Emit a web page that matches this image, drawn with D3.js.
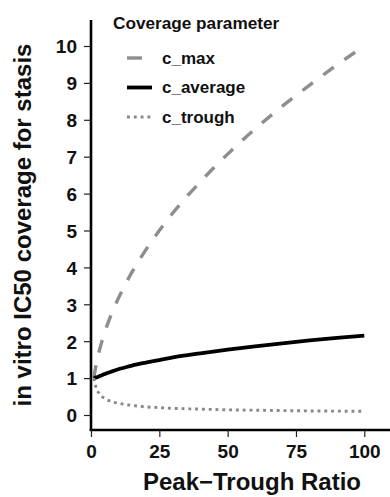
<!DOCTYPE html>
<html>
<head>
<meta charset="utf-8">
<script src="https://cdn.jsdelivr.net/npm/d3@7"></script>
<style>
  html, body { margin: 0; padding: 0; background: #fff; }
  svg { display: block; }
  text { font-family: "Liberation Sans", Arial, sans-serif; font-weight: bold; fill: #111; }
</style>
</head>
<body>
<svg id="chart" width="390" height="497"></svg>
<script>
// Peak-trough ratios and the coverage values read at each one
const ratio     = [1, 2, 3, 4, 5, 6, 8, 10, 12, 15, 20, 25, 30, 40, 50, 60, 70, 80, 90, 100];
const cMax      = [1, 1.41, 1.73, 2.0, 2.24, 2.45, 2.83, 3.16, 3.46, 3.87, 4.47, 5.0, 5.48, 6.32, 7.07, 7.75, 8.37, 8.94, 9.49, 10.0];
const cAverage  = [1, 1.02, 1.05, 1.08, 1.11, 1.14, 1.19, 1.24, 1.28, 1.34, 1.42, 1.49, 1.56, 1.67, 1.77, 1.86, 1.94, 2.02, 2.09, 2.15];
const cTrough   = [1, 0.71, 0.58, 0.5, 0.45, 0.41, 0.35, 0.32, 0.29, 0.26, 0.22, 0.2, 0.18, 0.16, 0.14, 0.13, 0.12, 0.11, 0.105, 0.1];
const xTicks    = [0, 25, 50, 75, 100];
const yTicks    = [0, 1, 2, 3, 4, 5, 6, 7, 8, 9, 10];
const seriesNames = ["c_max", "c_average", "c_trough"];

const svg = d3.select("#chart");

const x = d3.scaleLinear().domain([0, 100]).range([91, 364.3]);
const y = d3.scaleLinear().domain([0, 10]).range([415, 46]);

const styles = {
  c_max:     { color: "#8e8e8e", width: 3.4, dash: "13,13" },
  c_average: { color: "#000000", width: 3.8, dash: null },
  c_trough:  { color: "#888888", width: 2.9, dash: "2.9,3.9" }
};

const seriesValues = { c_max: cMax, c_average: cAverage, c_trough: cTrough };

// axis lines
svg.append("line").attr("x1", 91).attr("x2", 91).attr("y1", 20).attr("y2", 431)
  .attr("stroke", "#000").attr("stroke-width", 2.6);
svg.append("line").attr("x1", 89.7).attr("x2", 390).attr("y1", 430).attr("y2", 430)
  .attr("stroke", "#000").attr("stroke-width", 2.6);

// y axis ticks and labels
const yAxis = d3.axisLeft(y).tickValues(yTicks).tickSize(7).tickPadding(7).tickFormat(d3.format("d"));
const gy = svg.append("g").attr("transform", "translate(91,0)").call(yAxis);
gy.select(".domain").remove();
gy.selectAll(".tick line").attr("stroke", "#222").attr("stroke-width", 1.2);
gy.selectAll(".tick text").attr("font-size", 19).attr("font-family", "Liberation Sans, Arial, sans-serif")
  .attr("font-weight", "bold").attr("fill", "#111").attr("dy", "0.36em");

// x axis ticks and labels
const xAxis = d3.axisBottom(x).tickValues(xTicks).tickSize(7).tickPadding(8).tickFormat(d3.format("d"));
const gx = svg.append("g").attr("transform", "translate(0,430)").call(xAxis);
gx.select(".domain").remove();
gx.selectAll(".tick line").attr("stroke", "#222").attr("stroke-width", 1.2);
gx.selectAll(".tick text").attr("font-size", 19).attr("font-family", "Liberation Sans, Arial, sans-serif")
  .attr("font-weight", "bold").attr("fill", "#111");

// curves
const line = d3.line()
  .x(d => x(d[0]))
  .y(d => y(d[1]))
  .curve(d3.curveMonotoneX);

seriesNames.forEach(name => {
  const s = styles[name];
  const pts = ratio.map((r, i) => [r, seriesValues[name][i]]);
  svg.append("path")
    .datum(pts)
    .attr("d", line)
    .attr("fill", "none")
    .attr("stroke", s.color)
    .attr("stroke-width", s.width)
    .attr("stroke-dasharray", s.dash)
    .attr("stroke-linecap", "butt")
    .attr("stroke-linejoin", "round");
});

// axis titles
svg.append("text")
  .attr("x", 252).attr("y", 490)
  .attr("text-anchor", "middle")
  .attr("font-size", 24)
  .text("Peak\u2212Trough Ratio");

svg.append("text")
  .attr("transform", "translate(31,225) rotate(-90)")
  .attr("text-anchor", "middle")
  .attr("font-size", 24)
  .text("in vitro IC50 coverage for stasis");

// legend
const legend = svg.append("g");
legend.append("text")
  .attr("x", 113).attr("y", 28.5)
  .attr("font-size", 17.2)
  .text("Coverage parameter");

const legendY = [58, 87.5, 117];
seriesNames.forEach((name, i) => {
  const s = styles[name];
  legend.append("line")
    .attr("x1", 127).attr("x2", 152)
    .attr("y1", legendY[i]).attr("y2", legendY[i])
    .attr("stroke", s.color)
    .attr("stroke-width", s.width)
    .attr("stroke-dasharray", name === "c_max" ? "15,20" : s.dash);
  legend.append("text")
    .attr("x", 162).attr("y", legendY[i])
    .attr("dy", "0.35em")
    .attr("font-size", 17)
    .text(name);
});
</script>
</body>
</html>
